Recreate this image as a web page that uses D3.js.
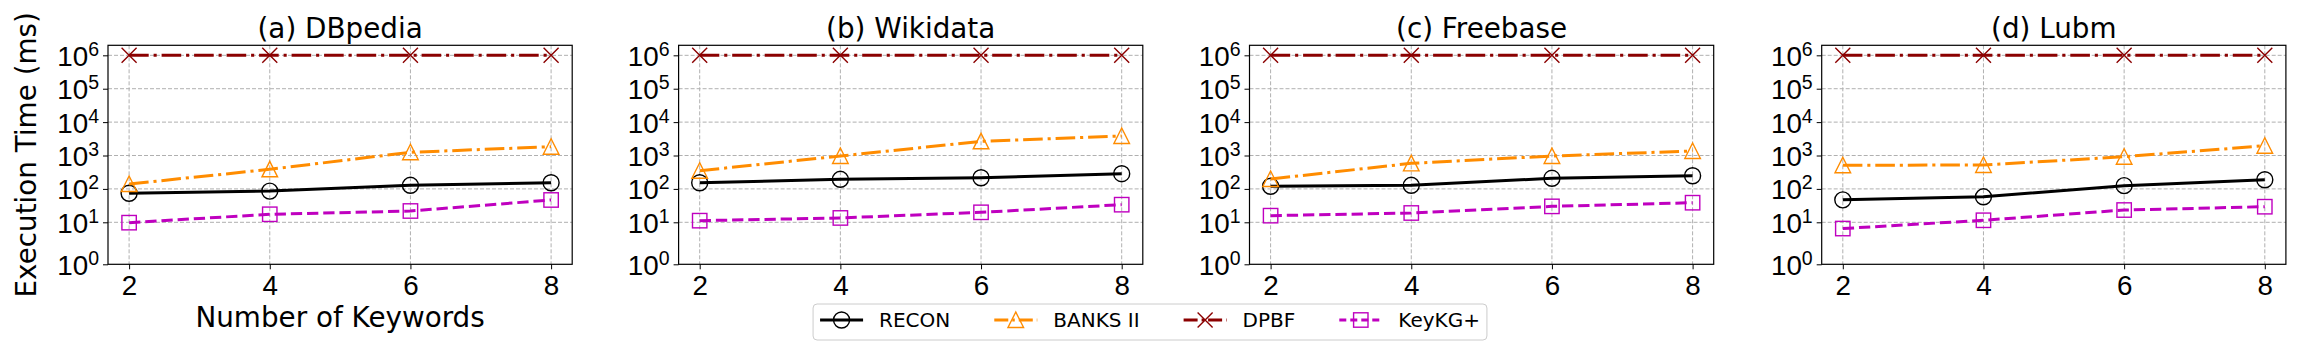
<!DOCTYPE html>
<html>
<head>
<meta charset="utf-8">
<script src="https://cdn.jsdelivr.net/npm/d3@7"></script>
<style>
  body { margin: 0; background: #fff; }
  svg { font-family: "DejaVu Sans", sans-serif; }
</style>
</head>
<body>
<script>
// data (execution time in ms)
const keywords = [2, 4, 6, 8];
const titles = ["(a) DBpedia", "(b) Wikidata", "(c) Freebase", "(d) Lubm"];
const yTickExps = [0, 1, 2, 3, 4, 5, 6];
const methods = ["RECON", "BANKS II", "DPBF", "KeyKG+"];

const recon = [[74, 86, 128, 153], [153, 194, 216, 285], [120, 128, 208, 248], [47, 58, 125, 188]];
const banks = [[140, 386, 1250, 1830], [350, 966, 2660, 3840], [198, 583, 966, 1365], [509, 520, 920, 1963]];
const dpbf = [[1e6, 1e6, 1e6, 1e6], [1e6, 1e6, 1e6, 1e6], [1e6, 1e6, 1e6, 1e6], [1e6, 1e6, 1e6, 1e6]];
const keykg = [[9.8, 17.4, 21.8, 46.6], [11.2, 13.5, 19.9, 33.7], [15.8, 19, 30, 38.6], [7.1, 11.5, 23.3, 29.3]];

const seriesValues = [recon, banks, dpbf, keykg];
const styles = [
  { color: "#000000", dash: null, marker: "circle" },
  { color: "#ff8c00", dash: "19.6,4.9,3.1,4.9", marker: "triangle" },
  { color: "#8b0000", dash: "19.6,4.9,3.1,4.9", marker: "x" },
  { color: "#bf00bf", dash: "11.3,4.9", marker: "square" }
];

const W = 2300, H = 350;
const panelLefts = [108, 678.6, 1249.5, 1821.7];
const panelW = 464.2, plotTop = 45.3, plotBottom = 264.3;
const fs = 27.8;

const svg = d3.select("body").append("svg")
  .attr("width", W).attr("height", H);

function drawMarker(g, type, cx, cy, color) {
  if (type === "circle") {
    g.append("circle").attr("cx", cx).attr("cy", cy).attr("r", 8)
      .attr("fill", "none").attr("stroke", color).attr("stroke-width", 1.4);
  } else if (type === "triangle") {
    g.append("path")
      .attr("d", `M${cx},${cy - 8}L${cx - 7.8},${cy + 7.5}L${cx + 7.8},${cy + 7.5}Z`)
      .attr("fill", "none").attr("stroke", color).attr("stroke-width", 1.4);
  } else if (type === "square") {
    g.append("rect").attr("x", cx - 7.2).attr("y", cy - 7.2)
      .attr("width", 14.4).attr("height", 14.4)
      .attr("fill", "none").attr("stroke", color).attr("stroke-width", 1.4);
  } else {
    g.append("path")
      .attr("d", `M${cx - 7.5},${cy - 7.5}L${cx + 7.5},${cy + 7.5}M${cx - 7.5},${cy + 7.5}L${cx + 7.5},${cy - 7.5}`)
      .attr("fill", "none").attr("stroke", color).attr("stroke-width", 1.4);
  }
}

titles.forEach((title, p) => {
  const left = panelLefts[p];
  const x = d3.scaleLinear().domain([1.7, 8.3]).range([left, left + panelW]);
  // log10 exponent -> pixel; the 10^0 decade is stretched like in the original
  const y = d3.scaleLinear().domain([0, 1, 6.3]).range([plotBottom, 222.3, plotTop]);
  const yv = v => y(Math.log10(v));

  const g = svg.append("g");

  // grid
  g.append("g").selectAll("line").data(keywords).join("line")
    .attr("x1", d => x(d)).attr("x2", d => x(d))
    .attr("y1", plotTop).attr("y2", plotBottom)
    .attr("stroke", "#b0b0b0").attr("stroke-width", 1).attr("stroke-dasharray", "4,2");
  g.append("g").selectAll("line").data(yTickExps.slice(1)).join("line")
    .attr("x1", left).attr("x2", left + panelW)
    .attr("y1", d => y(d)).attr("y2", d => y(d))
    .attr("stroke", "#b0b0b0").attr("stroke-width", 1).attr("stroke-dasharray", "4,2");

  // x axis
  const xa = g.append("g").attr("transform", `translate(0,${plotBottom})`)
    .call(d3.axisBottom(x).tickValues(keywords).tickFormat(d3.format("d"))
      .tickSize(5).tickSizeOuter(0));
  xa.select(".domain").remove();
  xa.selectAll("text").attr("y", 31).attr("dy", null)
    .style("font-size", fs + "px").attr("fill", "#000");

  // y axis with 10^n labels
  const ya = g.append("g").attr("transform", `translate(${left},0)`)
    .call(d3.axisLeft(y).tickValues(yTickExps).tickSize(5).tickSizeOuter(0).tickFormat(""));
  ya.select(".domain").remove();
  ya.selectAll(".tick text")
    .attr("x", -9).attr("y", 10).attr("dy", null)
    .attr("text-anchor", "end").attr("fill", "#000")
    .style("font-size", fs + "px")
    .each(function(d) {
      const t = d3.select(this);
      t.append("tspan").text("10");
      t.append("tspan").attr("dy", -10).style("font-size", "19.5px").text(d);
    });

  // frame
  g.append("rect").attr("x", left).attr("y", plotTop)
    .attr("width", panelW).attr("height", plotBottom - plotTop)
    .attr("fill", "none").attr("stroke", "#000").attr("stroke-width", 1.2);

  // title
  g.append("text").attr("x", left + panelW / 2).attr("y", 37.5)
    .attr("text-anchor", "middle").style("font-size", fs + "px").text(title);

  // series
  const line = d3.line().x((d, i) => x(keywords[i])).y(d => yv(d));
  seriesValues.forEach((vals, s) => {
    const st = styles[s];
    g.append("path").datum(vals[p]).attr("d", line)
      .attr("fill", "none").attr("stroke", st.color).attr("stroke-width", 3)
      .attr("stroke-dasharray", st.dash);
    const mg = g.append("g");
    vals[p].forEach((v, i) => drawMarker(mg, st.marker, x(keywords[i]), yv(v), st.color));
  });

  if (p === 0) {
    g.append("text").attr("transform", `translate(36,${(plotTop + plotBottom) / 2}) rotate(-90)`)
      .attr("text-anchor", "middle").style("font-size", fs + "px").text("Execution Time (ms)");
    g.append("text").attr("x", left + panelW / 2).attr("y", 327)
      .attr("text-anchor", "middle").style("font-size", fs + "px").text("Number of Keywords");
  }
});

// legend
const leg = svg.append("g");
const legBox = leg.append("rect").attr("y", 304).attr("height", 36).attr("rx", 4)
  .attr("fill", "#fff").attr("stroke", "#cccccc").attr("stroke-width", 1);
let cx = 0;
const items = [];
methods.forEach((m, s) => {
  const ig = leg.append("g");
  const st = styles[s];
  ig.append("line").attr("x1", 0).attr("x2", 43).attr("y1", 320).attr("y2", 320)
    .attr("stroke", st.color).attr("stroke-width", 3)
    .attr("stroke-dasharray", st.dash ? (s === 3 ? "7,4" : "14,4,2.5,4") : null);
  drawMarker(ig, st.marker, 21.5, 320, st.color);
  const t = ig.append("text").attr("x", 59).attr("y", 327).style("font-size", "20px").text(m);
  const w = 59 + t.node().getComputedTextLength();
  items.push({ g: ig, x: cx });
  cx += w + 44;
});
const total = cx - 44;
const startX = 1150 - total / 2;
items.forEach(it => it.g.attr("transform", `translate(${startX + it.x},0)`));
legBox.attr("x", startX - 7).attr("width", total + 14);
</script>
</body>
</html>
